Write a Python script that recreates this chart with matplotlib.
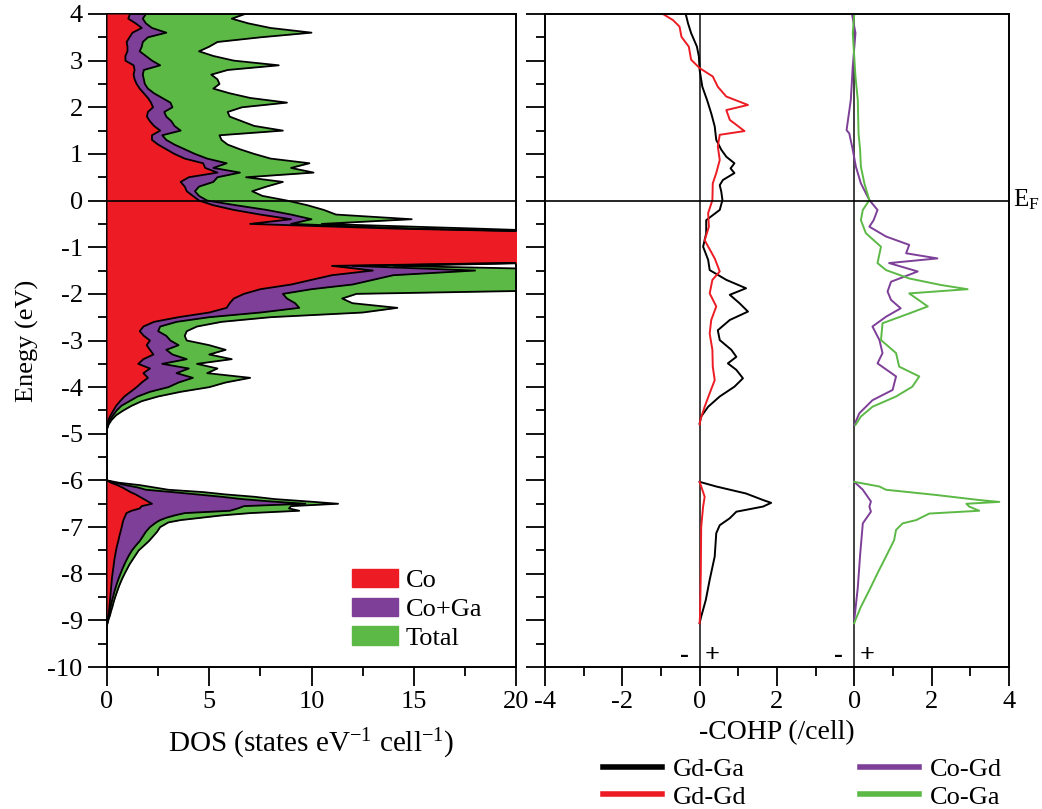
import numpy as np
import matplotlib
matplotlib.use("Agg")
import matplotlib.pyplot as plt
from matplotlib.patches import Patch
from matplotlib.lines import Line2D

plt.rcParams['font.family'] = ['Liberation Serif', 'DejaVu Serif']
plt.rcParams['mathtext.fontset'] = 'custom'
plt.rcParams['mathtext.rm'] = 'Liberation Serif'
plt.rcParams['mathtext.it'] = 'Liberation Serif:italic'
plt.rcParams['axes.unicode_minus'] = False

# ---------------- DOS data (states / eV / cell) ----------------
# valence band, 4.0 eV down to -4.9 eV in 0.1 eV steps
energy_upper = np.round(np.arange(4.0, -4.95, -0.1), 2)
total_upper = [6.75, 6.1, 6.9, 8.0, 10.0, 7.5, 5.4, 5.0, 4.5, 5.2,
               6.2, 8.4, 5.9, 5.1, 5.4, 5.5, 5.2, 6.0, 7.0, 8.8,
               6.6, 5.9, 6.0, 6.6, 7.2, 8.6, 5.5, 5.6, 5.9, 6.5,
               7.2, 8.0, 9.9, 9.0, 10.1, 6.8, 8.6, 7.8, 7.1, 7.6,
               8.8, 9.8, 10.6, 11.2, 14.9, 10.5, 18.0, 25, 25, 25,
               25, 25, 25, 25, 14.0, 25, 25, 25, 25, 25,
               12.2, 11.5, 12.0, 14.2, 12.5, 8.0, 5.6, 4.4, 3.9, 3.8,
               3.9, 5.0, 5.8, 5.0, 6.1, 4.4, 5.4, 4.9, 7.0, 5.8,
               5.0, 3.6, 2.5, 1.7, 1.2, 0.8, 0.45, 0.23, 0.08, 0.0]
coga_upper = [1.9, 1.75, 1.9, 2.2, 2.9, 2.0, 1.75, 1.7, 1.6, 1.9,
              2.2, 2.6, 1.8, 1.75, 1.8, 1.85, 2.0, 2.3, 2.7, 3.1,
              3.2, 2.8, 2.9, 3.15, 3.3, 3.6, 2.7, 2.9, 3.3, 3.8,
              4.3, 4.9, 5.85, 5.2, 6.5, 5.4, 5.2, 4.5, 4.3, 4.5,
              4.9, 6.3, 7.8, 9.0, 10.0, 9.0, 15.0, 25, 25, 25,
              25, 25, 25, 25, 12.0, 18.0, 14.0, 13.0, 12.0, 10.0,
              8.6, 8.8, 9.2, 9.4, 7.5, 5.0, 3.4, 2.6, 2.5, 2.9,
              3.1, 3.5, 2.9, 3.2, 3.9, 2.7, 4.0, 3.4, 4.2, 3.5,
              3.0, 2.1, 1.5, 1.1, 0.7, 0.47, 0.3, 0.15, 0.05, 0.0]
co_upper = [1.12, 1.04, 1.4, 1.7, 1.25, 1.1, 0.96, 1.0, 1.0, 0.9,
            0.9, 1.3, 1.35, 1.3, 1.35, 1.45, 1.6, 1.8, 2.0, 2.15,
            2.25, 2.0, 1.95, 2.1, 2.3, 2.6, 2.2, 2.2, 2.5, 2.9,
            3.3, 3.8, 4.7, 4.8, 5.4, 4.0, 3.6, 3.8, 3.9, 4.2,
            4.5, 5.2, 6.2, 7.5, 9.0, 7.0, 14.0, 25, 25, 25,
            25, 25, 25, 25, 11.0, 13.0, 11.0, 10.0, 9.0, 7.5,
            6.7, 6.2, 6.0, 5.85, 5.0, 3.5, 2.3, 1.78, 1.6, 1.8,
            2.1, 1.94, 2.1, 2.27, 1.78, 1.53, 2.1, 1.78, 2.0, 1.7,
            1.45, 1.15, 0.85, 0.64, 0.45, 0.31, 0.18, 0.07, 0.02, 0.0]

# low-lying band
energy_lower = [-6.0, -6.05, -6.1, -6.15, -6.2, -6.25, -6.3, -6.35, -6.4, -6.45,
                -6.5, -6.55, -6.6, -6.65, -6.7, -6.75, -6.8, -6.85, -6.9,
                -7.0, -7.1, -7.2, -7.3, -7.4, -7.5, -7.6, -7.7, -7.8, -7.9,
                -8.0, -8.1, -8.2, -8.3, -8.4, -8.5, -8.6, -8.7, -8.8, -8.9,
                -9.0, -9.1]
total_lower = [0.0, 0.6, 1.6, 2.3, 3.0, 4.7, 5.8, 7.2, 8.2, 9.8,
               11.3, 9.0, 8.9, 9.4, 7.0, 5.6, 4.6, 3.6, 3.0,
               2.6, 2.45, 2.25, 2.05, 1.8, 1.55, 1.4, 1.25, 1.1, 0.98,
               0.86, 0.75, 0.65, 0.56, 0.48, 0.4, 0.33, 0.27, 0.2, 0.14,
               0.06, 0.0]
coga_lower = [0.0, 0.4, 0.9, 1.5, 1.9, 3.2, 4.4, 5.6, 6.6, 8.0,
              9.7, 6.7, 6.4, 6.0, 3.8, 3.3, 2.9, 2.6, 2.4,
              2.1, 1.9, 1.75, 1.6, 1.4, 1.22, 1.08, 0.96, 0.85, 0.75,
              0.66, 0.57, 0.49, 0.42, 0.35, 0.29, 0.23, 0.18, 0.13, 0.08,
              0.04, 0.0]
co_lower = [0.0, 0.2, 0.5, 0.75, 0.95, 1.15, 1.4, 1.6, 1.8, 2.0,
            2.2, 1.7, 1.6, 1.2, 0.95, 0.9, 0.85, 0.8, 0.77,
            0.72, 0.66, 0.6, 0.55, 0.49, 0.44, 0.4, 0.36, 0.33, 0.3,
            0.27, 0.24, 0.22, 0.2, 0.18, 0.16, 0.14, 0.12, 0.1, 0.07,
            0.03, 0.0]

# ---------------- -COHP data (/cell) ----------------
gdga_E = [4.0, 3.8, 3.59, 3.3, 3.09, 2.8, 2.44, 2.16, 1.87, 1.59, 1.30, 1.09, 0.94,
          0.80, 0.69, 0.59, 0.44, 0.33, 0.19, 0.01, -0.2, -0.42, -0.7, -0.99, -1.27,
          -1.49, -1.7, -1.88, -2.02, -2.2, -2.38, -2.56, -2.78, -2.99, -3.2, -3.35,
          -3.49, -3.63, -3.81, -3.99, -4.2, -4.42, -4.63, -4.78, -5.4, -6.03, -6.13,
          -6.28, -6.42, -6.48, -6.56, -6.67, -6.81, -6.96, -7.13, -7.63, -8.13,
          -8.56, -8.92, -9.06]
gdga_val = [-0.36, -0.30, -0.22, -0.07, -0.02, 0.0, 0.07, 0.19, 0.30, 0.39, 0.43,
            0.56, 0.69, 0.90, 0.80, 0.90, 0.60, 0.52, 0.56, 0.59, 0.52, 0.17, 0.17,
            0.09, 0.22, 0.26, 0.69, 1.20, 0.78, 1.03, 1.25, 0.78, 0.47, 0.52, 0.82,
            0.95, 0.73, 0.95, 1.12, 0.90, 0.52, 0.22, 0.04, 0.0, np.nan, 0.0, 0.43,
            1.20, 1.64, 1.85, 1.64, 0.95, 0.78, 0.52, 0.43, 0.39, 0.26, 0.16, 0.04, 0.0]

gdgd_E = [4.0, 3.87, 3.73, 3.51, 3.3, 3.02, 2.84, 2.66, 2.44, 2.23, 2.05, 1.94, 1.73,
          1.49, 1.41, 1.16, 0.87, 0.59, 0.37, 0.01, -0.27, -0.56, -0.85, -1.24, -1.52,
          -1.7, -1.99, -2.27, -2.56, -2.85, -3.2, -3.56, -3.85, -4.13, -4.42, -4.7,
          -4.8, -5.4, -6.03, -6.35, -6.56, -7.0, -8.0, -8.9, -9.06]
gdgd_val = [-0.95, -0.69, -0.52, -0.47, -0.28, -0.22, 0.0, 0.34, 0.47, 0.69, 1.25,
            0.69, 0.78, 1.16, 0.52, 0.47, 0.52, 0.43, 0.34, 0.33, 0.22, 0.24, 0.13,
            0.39, 0.52, 0.33, 0.26, 0.43, 0.30, 0.26, 0.33, 0.34, 0.39, 0.26, 0.13,
            0.02, 0.0, np.nan, 0.0, 0.13, 0.09, 0.04, 0.03, 0.01, 0.0]

cogd_E = [4.0, 3.59, 2.87, 2.16, 1.51, 1.44, 1.09, 0.73, 0.37, 0.01, -0.2, -0.42,
          -0.56, -0.77, -0.95, -1.13, -1.24, -1.34, -1.52, -1.74, -1.95, -2.13, -2.31,
          -2.49, -2.7, -2.99, -3.27, -3.49, -3.77, -4.06, -4.28, -4.56, -4.81, -5.4,
          -6.03, -6.2, -6.45, -6.56, -6.67, -6.92, -7.6, -8.3, -8.99]
cogd_val = [-0.06, 0.03, -0.04, -0.09, -0.2, -0.13, -0.04, 0.04, 0.17, 0.39, 0.6,
            0.5, 0.39, 0.82, 1.42, 1.34, 2.15, 0.9, 1.64, 0.95, 0.86, 0.95, 1.2, 0.82,
            0.47, 0.65, 0.73, 0.6, 1.08, 0.99, 0.47, 0.13, 0.0, np.nan, 0.0, 0.22,
            0.43, 0.39, 0.43, 0.22, 0.15, 0.09, 0.0]

coga_E = [4.0, 3.59, 2.66, 2.16, 1.44, 1.09, 0.73, 0.37, 0.01, -0.2, -0.42, -0.7,
          -0.99, -1.34, -1.49, -1.67, -1.81, -1.9, -1.99, -2.27, -2.42, -2.63, -2.99,
          -3.27, -3.56, -3.77, -3.99, -4.2, -4.42, -4.63, -4.81, -5.4, -6.03, -6.13,
          -6.2, -6.31, -6.42, -6.46, -6.5, -6.56, -6.65, -6.71, -6.85, -6.92, -7.06,
          -7.28, -7.63, -7.99, -8.35, -8.71, -8.99, -9.06]
coga_val = [0.0, -0.04, 0.03, 0.09, 0.11, 0.15, 0.17, 0.26, 0.39, 0.22, 0.17, 0.3,
            0.69, 0.6, 0.82, 1.42, 2.24, 2.93, 1.42, 1.9, 1.42, 0.73, 0.69, 1.08, 1.16,
            1.68, 1.5, 1.08, 0.47, 0.17, 0.03, np.nan, 0.0, 0.65, 0.82, 2.1, 3.23, 3.75,
            2.9, 2.97, 3.23, 1.94, 1.6, 1.25, 1.08, 1.03, 0.82, 0.6, 0.39, 0.17, 0.03, 0.0]

dos_labels = ['Co', 'Co+Ga', 'Total']
cohp_labels = ['Gd-Ga', 'Gd-Gd', 'Co-Gd', 'Co-Ga']
cohp_ticks = [-4, -2, 0, 2, 4, 6, 8]
cohp_ticklabels = ['-4', '-2', '0', '2', '0', '2', '4']

RED = '#ed1c24'
PURPLE = '#7e3f98'
GREEN = '#5cb946'
FS = 19
CO_SHIFT = 4.0   # horizontal offset of the Co-pair panel

fig = plt.figure(figsize=(10.42, 8.09), dpi=100)
ax1 = fig.add_axes([0.1027, 0.1755, 0.3925, 0.8072])
ax2 = fig.add_axes([0.523, 0.1755, 0.4453, 0.8072])


def draw_band(ax, e, co, coga, tot):
    ax.fill_betweenx(e, 0, tot, color=GREEN, lw=0, zorder=1)
    ax.fill_betweenx(e, 0, coga, color=PURPLE, lw=0, zorder=2)
    ax.fill_betweenx(e, 0, co, color=RED, lw=0, zorder=3)
    for s in (tot, coga, co):
        ax.plot(s, e, color='black', lw=1.3, zorder=4)


draw_band(ax1, energy_upper, co_upper, coga_upper, total_upper)
draw_band(ax1, energy_lower, co_lower, coga_lower, total_lower)
ax1.axhline(0, color='black', lw=1.2, zorder=5)

ax1.set_xlim(0, 20)
ax1.set_ylim(-10, 4)
ax1.set_xticks([0, 5, 10, 15, 20])
ax1.set_xticks([2.5, 7.5, 12.5, 17.5], minor=True)
ax1.set_yticks(range(-10, 5))
ax1.set_yticks(np.arange(-9.5, 4, 1.0), minor=True)
ax1.set_xlabel('DOS (states eV$^{-1}$ cell$^{-1}$)', fontsize=21, labelpad=10)
ax1.set_ylabel('Enegy (eV)', fontsize=FS, labelpad=6)

handles = [Patch(color=c) for c in (RED, PURPLE, GREEN)]
ax1.legend(handles, dos_labels, loc='lower left', bbox_to_anchor=(0.566, 0.006),
           frameon=False, fontsize=FS, handlelength=1.75, handleheight=0.7,
           labelspacing=0.2, handletextpad=0.3, borderpad=0)

# -COHP panel
ax2.plot(gdga_val, gdga_E, color='black', lw=1.4)
ax2.plot(gdgd_val, gdgd_E, color=RED, lw=1.4)
ax2.plot(np.array(cogd_val) + CO_SHIFT, cogd_E, color=PURPLE, lw=1.4)
ax2.plot(np.array(coga_val) + CO_SHIFT, coga_E, color=GREEN, lw=1.4)
ax2.axvline(0, color='#333333', lw=1.3, zorder=0)
ax2.axvline(CO_SHIFT, color='#333333', lw=1.3, zorder=0)
ax2.axhline(0, color='black', lw=1.2)

for x0 in (0, CO_SHIFT):
    ax2.text(x0 - 0.4, -9.75, '-', fontsize=FS, fontweight='bold', ha='center', va='center')
    ax2.text(x0 + 0.33, -9.75, '+', fontsize=FS, fontweight='bold', ha='center', va='center')

ax2.set_xlim(-4, 8)
ax2.set_ylim(-10, 4)
ax2.set_xticks(cohp_ticks)
ax2.set_xticklabels(cohp_ticklabels)
ax2.set_xticks([-3, -1, 1, 3, 5, 7], minor=True)
ax2.set_yticks(range(-10, 5))
ax2.set_yticks(np.arange(-9.5, 4, 1.0), minor=True)
ax2.tick_params(axis='y', labelleft=False)
ax2.set_xlabel('-COHP (/cell)', fontsize=20, labelpad=5)

for ax in (ax1, ax2):
    for sp in ax.spines.values():
        sp.set_linewidth(1.4)
    ax.tick_params(which='major', direction='out', length=13.5, width=1.3,
                   labelsize=FS, pad=4)
    ax.tick_params(which='minor', direction='out', length=6.5, width=1.3)

fig.text(1013 / 1042, 1 - 200 / 809, 'E$_\\mathrm{F}$', fontsize=18, ha='left', va='center')

lh = [Line2D([], [], color=c, lw=4) for c in ('black', RED, PURPLE, GREEN)]
fig.legend(lh, cohp_labels, ncol=2, loc='center left', bbox_to_anchor=(0.566, 0.032),
           frameon=False, fontsize=FS, handlelength=2.25, handletextpad=0.4,
           columnspacing=4.3, labelspacing=0.15, borderpad=0)

fig.savefig('out.png', dpi=100)
